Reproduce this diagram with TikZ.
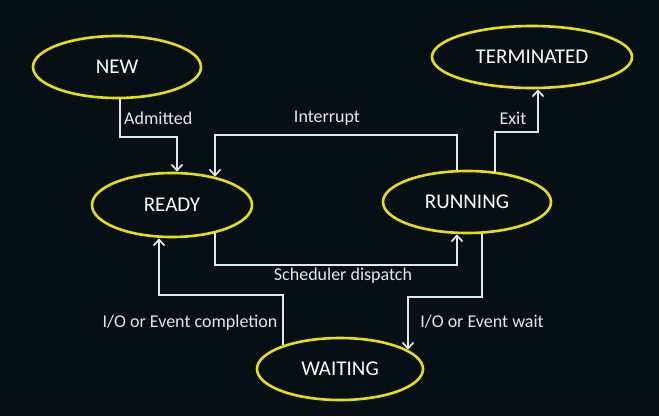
\documentclass[tikz,border=0pt]{standalone}
\usepackage{fontspec}
\setmainfont{Carlito}
\usetikzlibrary{shapes.geometric,arrows.meta}
\definecolor{bg}{RGB}{6,16,20}
\definecolor{ylw}{RGB}{232,222,10}
\definecolor{wline}{RGB}{228,230,232}
\tikzset{
  state/.style={ellipse, draw=ylw, line width=2.6pt, fill=bg, text=white, inner sep=0pt,
    font=\fontsize{21}{24}\selectfont},
  arr/.style={draw=wline, line width=1.7pt, -{Straight Barb[length=6pt,width=11pt,line width=1.7pt]}},
  lbl/.style={text=wline, inner sep=0pt, font=\fontsize{18}{21}\selectfont}
}
\begin{document}
\begin{tikzpicture}[x=1pt,y=-1pt]
\fill[bg] (0,0) rectangle (659,416);
\useasboundingbox (0,0) rectangle (659,416);
\node[state, minimum width=168pt, minimum height=62pt] (new) at (117,67) {NEW};
\node[state, minimum width=200pt, minimum height=62pt] (term) at (532,57) {TERMINATED};
\node[state, minimum width=160pt, minimum height=64pt] (ready) at (172,205) {READY};
\node[state, minimum width=168pt, minimum height=62pt] (run) at (467,202) {RUNNING};
\node[state, minimum width=166pt, minimum height=62pt] (wait) at (340,369) {WAITING};

\draw[arr] ([xshift=3pt]new.south) -- ++(0,38) -| ([xshift=5pt]ready.north);
\draw[arr] ([xshift=-10pt]run.north) -- ++(0,-35) -| ([xshift=43pt,yshift=-5pt]ready.north);
\draw[arr] ([xshift=28pt,yshift=-2pt]run.north) -- ++(0,-40) -| ([xshift=6pt]term.south);
\draw[arr] ([xshift=43pt,yshift=5pt]ready.south) -- ++(0,32) -| ([xshift=-10pt]run.south);
\draw[arr] ([xshift=15pt]run.south) -- ++(0,63) -| ([xshift=68pt,yshift=-13pt]wait.north);
\draw[arr] ([xshift=-57pt,yshift=-8pt]wait.north) -- ++(0,-50) -| ([xshift=-13pt]ready.south);

\node[lbl, anchor=west] (ladm) at (124,118) {Admitted};
\node[lbl] (lint) at (327,118) {Interrupt};
\node[lbl] (lexit) at (513,118) {Exit};
\node[lbl] (lsch) at (343,276) {Scheduler dispatch};
\node[lbl] (lwait) at (482,322) {I/O or Event wait};
\node[lbl] (lcomp) at (190,323) {I/O or Event completion};
\end{tikzpicture}
\end{document}
